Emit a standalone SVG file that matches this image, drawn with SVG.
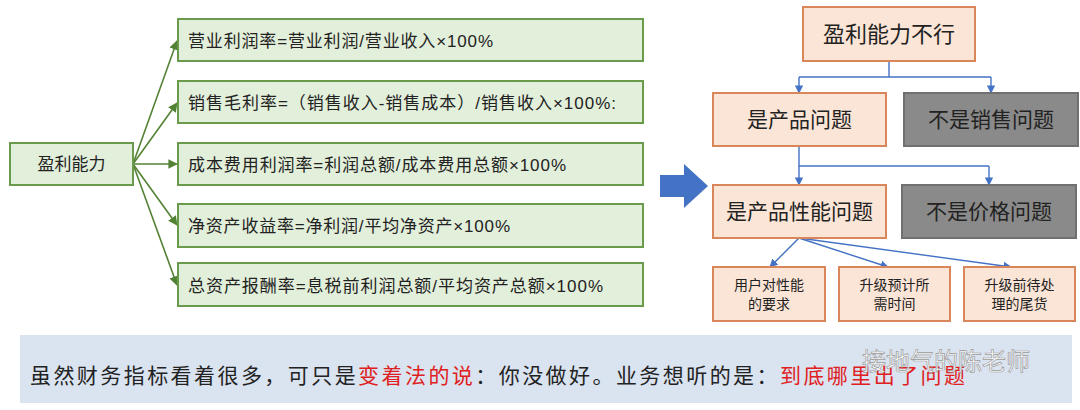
<svg xmlns="http://www.w3.org/2000/svg" width="1080" height="410" viewBox="0 0 1080 410">
<defs>
<style>
text{font-family:"Liberation Sans","Noto Sans CJK SC",sans-serif;fill:#222}
.g{fill:#e2efda;stroke:#6a9a4c;stroke-width:2}
.o{fill:#fbe5d6;stroke:#d9875a;stroke-width:2}
.d{fill:#8a8a8a;stroke:#707070;stroke-width:2}
.gl{stroke:#548235;stroke-width:1.6;fill:none}
.bl{stroke:#4472c4;stroke-width:1.4;fill:none}
.f{font-size:17px}
</style>
<marker id="ga" viewBox="0 0 10 10" refX="9" refY="5" markerWidth="6" markerHeight="6" orient="auto"><path d="M0,0L10,5L0,10z" fill="#548235"/></marker>
<marker id="ba" viewBox="0 0 10 10" refX="9" refY="5" markerWidth="6" markerHeight="6" orient="auto"><path d="M0,0L10,5L0,10z" fill="#4472c4"/></marker>
</defs>
<rect width="1080" height="410" fill="#fff"/>
<g id="connectors">
<path class="gl" marker-end="url(#ga)" d="M133,164L177,41"/>
<path class="gl" marker-end="url(#ga)" d="M133,164L177,103"/>
<path class="gl" marker-end="url(#ga)" d="M133,164L177,164"/>
<path class="gl" marker-end="url(#ga)" d="M133,164L177,225"/>
<path class="gl" marker-end="url(#ga)" d="M133,164L177,285"/>
<path class="bl" d="M889,61V77H799M889,77H991"/>
<path class="bl" marker-end="url(#ba)" d="M799,77V93"/>
<path class="bl" marker-end="url(#ba)" d="M991,77V93"/>
<path class="bl" d="M799,146V166H989"/>
<path class="bl" marker-end="url(#ba)" d="M799,166V185"/>
<path class="bl" marker-end="url(#ba)" d="M989,166V185"/>
<path class="bl" marker-end="url(#ba)" d="M799,238L770,267"/>
<path class="bl" marker-end="url(#ba)" d="M799,238L888,267"/>
<path class="bl" marker-end="url(#ba)" d="M799,238L1011,267"/>
</g>
<g id="n0"><rect class="g" x="10" y="143" width="123" height="42"/><text x="71.5" y="170" font-size="17" text-anchor="middle">盈利能力</text></g>
<g id="n1"><rect class="g" x="178" y="19" width="465" height="42"/><text class="f" x="188" y="47" textLength="305">营业利润率=营业利润/营业收入×100%</text></g>
<g id="n2"><rect class="g" x="178" y="81" width="465" height="42"/><text class="f" x="188" y="109" textLength="428">销售毛利率=（销售收入-销售成本）/销售收入×100%:</text></g>
<g id="n3"><rect class="g" x="178" y="143" width="465" height="42"/><text class="f" x="188" y="171" textLength="378">成本费用利润率=利润总额/成本费用总额×100%</text></g>
<g id="n4"><rect class="g" x="178" y="204" width="465" height="43"/><text class="f" x="188" y="232" textLength="322">净资产收益率=净利润/平均净资产×100%</text></g>
<g id="n5"><rect class="g" x="178" y="263" width="465" height="43"/><text class="f" x="188" y="292" textLength="415">总资产报酬率=息税前利润总额/平均资产总额×100%</text></g>
<g id="bigarrow"><path d="M660,175H684V164L708,186L684,208V197H660z" fill="#4472c4"/></g>
<g id="r0"><rect class="o" x="803" y="7" width="172" height="54"/><text x="889" y="42" font-size="22" text-anchor="middle">盈利能力不行</text></g>
<g id="r1"><rect class="o" x="713" y="93" width="173" height="53"/><text x="799.5" y="127" font-size="21" text-anchor="middle">是产品问题</text></g>
<g id="r2"><rect class="d" x="904" y="93" width="174" height="53"/><text x="991" y="127" font-size="21" text-anchor="middle">不是销售问题</text></g>
<g id="r3"><rect class="o" x="713" y="185" width="173" height="53"/><text x="799.5" y="219" font-size="21" text-anchor="middle">是产品性能问题</text></g>
<g id="r4"><rect class="d" x="902" y="185" width="174" height="53"/><text x="989" y="219" font-size="21" text-anchor="middle">不是价格问题</text></g>
<g id="r5"><rect class="o" x="713" y="267" width="112" height="54"/><text x="769" y="290" font-size="14" text-anchor="middle">用户对性能</text><text x="769" y="309" font-size="14" text-anchor="middle">的要求</text></g>
<g id="r6"><rect class="o" x="839" y="267" width="111" height="54"/><text x="894.5" y="290" font-size="14" text-anchor="middle">升级预计所</text><text x="894.5" y="309" font-size="14" text-anchor="middle">需时间</text></g>
<g id="r7"><rect class="o" x="964" y="267" width="111" height="54"/><text x="1019.5" y="290" font-size="14" text-anchor="middle">升级前待处</text><text x="1019.5" y="309" font-size="14" text-anchor="middle">理的尾货</text></g>
<g id="note">
<rect x="20" y="335" width="1052" height="68" fill="#dae3f0"/>
<text x="30" y="383" font-size="21" textLength="935">虽然财务指标看着很多，可只是<tspan fill="#e02020">变着法的说</tspan>：你没做好。业务想听的是：<tspan fill="#e02020">到底哪里出了问题</tspan></text>
<text x="862" y="370" font-size="24" stroke="#999" stroke-width="0.7" style="fill:#fff">接地气的陈老师</text>
</g>
</svg>
